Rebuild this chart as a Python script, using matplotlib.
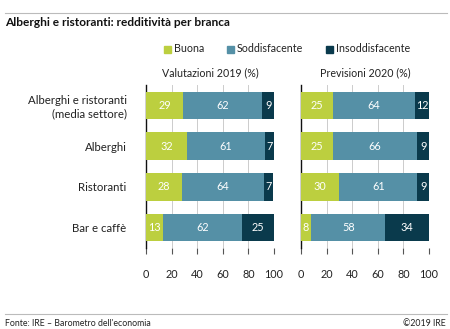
import matplotlib
matplotlib.use("Agg")
import matplotlib.pyplot as plt
from matplotlib.lines import Line2D
from matplotlib.patches import Rectangle

plt.rcParams['font.family'] = ['Lato', 'DejaVu Sans']

categories = ["Alberghi e ristoranti\n(media settore)", "Alberghi", "Ristoranti", "Bar e caffè"]
series_names = ["Buona", "Soddisfacente", "Insoddisfacente"]
val2019_buona = [29, 32, 28, 13]
val2019_sodd = [62, 61, 64, 62]
val2019_inso = [9, 7, 7, 25]
val2020_buona = [25, 25, 30, 8]
val2020_sodd = [64, 66, 61, 58]
val2020_inso = [12, 9, 9, 34]
panel_titles = ["Valutazioni 2019 (%)", "Previsioni 2020 (%)"]
xticks = [0, 20, 40, 60, 80, 100]

colors = ["#BCCF3F", "#5590A6", "#0A3A4C"]

W, H = 450, 329
fig = plt.figure(figsize=(W/100, H/100), dpi=100)

def fx(px): return px / W
def fy(py): return 1 - py / H

# top and bottom rules
fig.add_artist(Line2D([fx(5), fx(447)], [fy(13), fy(13)], color="#BBBBBB", lw=0.8))
fig.add_artist(Line2D([fx(5), fx(447)], [fy(314), fy(314)], color="#BBBBBB", lw=0.8))
fig.text(fx(5), fy(23), "Alberghi e ristoranti: redditività per branca", fontsize=8.6,
         fontweight="bold", ha="left", va="center", color="#111111")
fig.text(fx(5), fy(323), "Fonte: IRE – Barometro dell'economia", fontsize=6.3,
         ha="left", va="center", color="#222222")
fig.text(fx(446), fy(323), "©2019 IRE", fontsize=6.3, ha="right", va="center", color="#222222")

# legend
leg_x = [164, 227, 326]
for x, name, c in zip(leg_x, series_names, colors):
    fig.add_artist(Rectangle((fx(x), fy(53)), 7/W, 7/H, color=c, transform=fig.transFigure))
    fig.text(fx(x + 10), fy(49), name, fontsize=7.7, ha="left", va="center", color="#222222")

data = [
    (val2019_buona, val2019_sodd, val2019_inso),
    (val2020_buona, val2020_sodd, val2020_inso),
]
lefts = [146, 301]
top, bottom = 85, 248
for p, (left, vals, title) in enumerate(zip(lefts, data, panel_titles)):
    ax = fig.add_axes([fx(left), fy(bottom), 128/W, (bottom - top)/H])
    ypos = list(range(len(categories)))
    base = [0]*len(categories)
    for s, (v, c) in enumerate(zip(vals, colors)):
        ax.barh(ypos, v, left=base, height=0.68, color=c, zorder=3)
        for i in range(len(categories)):
            ax.text(base[i] + v[i]/2, ypos[i], str(v[i]), ha="center", va="center",
                    color="white", fontsize=7.8, zorder=4)
        base = [b + x for b, x in zip(base, v)]
    ax.set_xlim(0, 100)
    ax.set_ylim(len(categories) - 0.5, -0.5)
    ax.set_xticks(xticks)
    ax.set_xticklabels([str(t) for t in xticks], fontsize=7.8, color="#222222")
    ax.tick_params(axis="x", length=4, width=0.8, color="#555555", pad=11)
    ax.grid(axis="x", color="#CCCCCC", lw=0.7, zorder=0)
    for sp in ["top", "right", "bottom"]:
        ax.spines[sp].set_visible(False)
    ax.spines["left"].set_color("#111111")
    ax.spines["left"].set_linewidth(1.0)
    ax.tick_params(axis="y", length=0)
    if p == 0:
        ax.set_yticks(ypos)
        ax.set_yticklabels(categories, fontsize=8.2, color="#222222", ha="right")
        ax.tick_params(axis="y", pad=14)
    else:
        ax.set_yticks([])
    fig.text(fx(left + 64), fy(73), title, fontsize=7.7, ha="center", va="center", color="#222222")

fig.savefig("out.png", dpi=100)
